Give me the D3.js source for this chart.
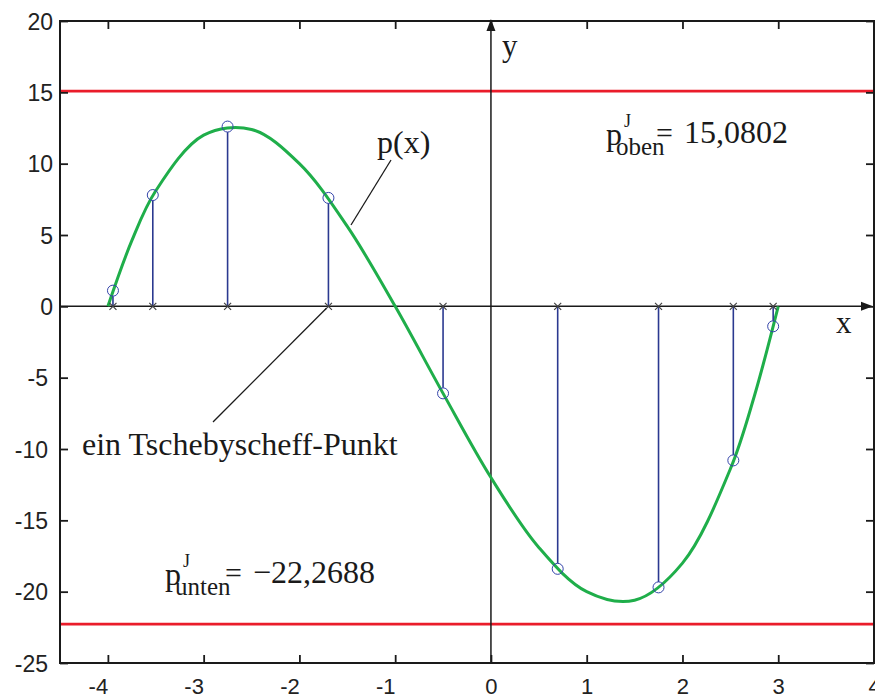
<!DOCTYPE html>
<html>
<head>
<meta charset="utf-8">
<script src="https://cdn.jsdelivr.net/npm/d3@7"></script>
<style>
  body { margin: 0; background: #fff; }
  svg { display: block; }
</style>
</head>
<body>
<div id="root"></div>
<script>
// chebyshev nodes on [-4, 3] and the values p(x) at them
const nodeX = [-3.947, -3.531, -2.750, -1.697, -0.500, 0.697, 1.750, 2.531, 2.947];
const nodeY = [1.1, 7.8, 12.6, 7.6, -6.1, -18.4, -19.7, -10.8, -1.4];

const curveX = [-4, -3.75, -3.5, -3, -2.5, -2, -1.5, -1, -0.5, 0, 0.5, 1, 1.5, 2, 2.5, 2.75, 3];
const curveY = [0, 4.6, 8.1, 12, 12.4, 10, 5.6, 0, -6.1, -12, -16.9, -20, -20.6, -18, -11.4, -6.3, 0];

// upper / lower bounds
const boundValues = [15.0802, -22.2688];

const xTicks = [-4, -3, -2, -1, 0, 1, 2, 3, 4];
const yTicks = [-25, -20, -15, -10, -5, 0, 5, 10, 15, 20];

const width = 875,
  height = 696,
  margin = { left: 60, top: 21, right: 1, bottom: 33 };

const serif = "'Liberation Serif', 'Times New Roman', serif";
const sans = "'Liberation Sans', Arial, sans-serif";

const svg = d3.select("#root")
  .append("svg")
  .attr("width", width)
  .attr("height", height)
  .attr("viewBox", [0, 0, width, height]);

const x = d3.scaleLinear()
  .domain([-4.5, 4])
  .range([margin.left, width - margin.right]);

const y = d3.scaleLinear()
  .domain([-25, 20])
  .range([height - margin.bottom, margin.top]);

const x0 = x.range()[0], x1 = x.range()[1];
const y0 = y.range()[0], y1 = y.range()[1];

// red bound lines
svg.append("g")
  .selectAll("line")
  .data(boundValues)
  .join("line")
  .attr("x1", x0)
  .attr("x2", x1)
  .attr("y1", (d) => y(d))
  .attr("y2", (d) => y(d))
  .attr("stroke", "#ea1c2a")
  .attr("stroke-width", 2.7);

// coordinate axes through the origin, with arrow heads
const axes = svg.append("g").attr("stroke", "#1a1a1a").attr("fill", "#1a1a1a");
axes.append("line")
  .attr("x1", x0).attr("x2", x1 - 6)
  .attr("y1", y(0)).attr("y2", y(0))
  .attr("stroke-width", 1.5);
axes.append("path")
  .attr("stroke", "none")
  .attr("d", `M${x1 - 1},${y(0)} L${x1 - 13},${y(0) - 4.5} L${x1 - 13},${y(0) + 4.5} Z`);
axes.append("line")
  .attr("x1", x(0)).attr("x2", x(0))
  .attr("y1", y0).attr("y2", y1 + 8)
  .attr("stroke-width", 1.5);
axes.append("path")
  .attr("stroke", "none")
  .attr("d", `M${x(0)},${y1 - 2} L${x(0) - 4.5},${y1 + 10} L${x(0) + 4.5},${y1 + 10} Z`);

// green polynomial
const line = d3.line()
  .x((d, i) => x(curveX[i]))
  .y((d) => y(d))
  .curve(d3.curveCatmullRom.alpha(0.5));

svg.append("path")
  .datum(curveY)
  .attr("fill", "none")
  .attr("stroke", "#1fae4a")
  .attr("stroke-width", 3)
  .attr("d", line);

// stems from the nodes to p(x)
const nodes = nodeX.map((d, i) => ({ x: d, y: nodeY[i] }));

svg.append("g")
  .selectAll("line")
  .data(nodes)
  .join("line")
  .attr("x1", (d) => x(d.x))
  .attr("x2", (d) => x(d.x))
  .attr("y1", y(0))
  .attr("y2", (d) => y(d.y) + (d.y > 0 ? 5.5 : -5.5))
  .attr("stroke", "#2b3990")
  .attr("stroke-width", 1.6);

svg.append("g")
  .selectAll("circle")
  .data(nodes)
  .join("circle")
  .attr("cx", (d) => x(d.x))
  .attr("cy", (d) => y(d.y))
  .attr("r", 5.5)
  .attr("fill", "none")
  .attr("stroke", "#3444aa")
  .attr("stroke-width", 1);

// crosses on the x axis
svg.append("g")
  .selectAll("path")
  .data(nodes)
  .join("path")
  .attr("transform", (d) => `translate(${x(d.x)},${y(0)})`)
  .attr("d", "M-3.5,-3.5L3.5,3.5M-3.5,3.5L3.5,-3.5")
  .attr("stroke", "#444")
  .attr("stroke-width", 1.2);

// frame with inward ticks on all sides
const styleAxis = (g) => {
  g.select(".domain").remove();
  g.selectAll(".tick line").attr("stroke", "#1a1a1a").attr("stroke-width", 1.8);
  g.selectAll("text").attr("font-family", sans).attr("font-size", 23).attr("fill", "#222");
};

// plain hyphen for negatives, like the original
const plain = (d) => String(d);

svg.append("g")
  .attr("transform", `translate(0,${y0})`)
  .call(d3.axisBottom(x).tickValues(xTicks).tickSize(-8).tickPadding(0).tickFormat(plain))
  .call(styleAxis)
  .call((g) => g.selectAll("text")
    .attr("font-size", 22)
    .attr("y", 31)
    .attr("dy", 0)
    .attr("dx", (d) => (d < 0 ? -10 : 0)));

svg.append("g")
  .attr("transform", `translate(0,${y1})`)
  .call(d3.axisTop(x).tickValues(xTicks).tickSize(-8).tickFormat(""))
  .call(styleAxis);

svg.append("g")
  .attr("transform", `translate(${x0},0)`)
  .call(d3.axisLeft(y).tickValues(yTicks).tickSize(-8).tickFormat(plain))
  .call(styleAxis)
  .call((g) => g.selectAll("text")
    .attr("x", (d) => (d < 0 ? -12 : -7))
    .attr("dy", "0.36em"));

svg.append("g")
  .attr("transform", `translate(${x1},0)`)
  .call(d3.axisRight(y).tickValues(yTicks).tickSize(-8).tickFormat(""))
  .call(styleAxis);

svg.append("rect")
  .attr("x", x0)
  .attr("y", y1)
  .attr("width", x1 - x0)
  .attr("height", y0 - y1)
  .attr("fill", "none")
  .attr("stroke", "#1a1a1a")
  .attr("stroke-width", 2);

// annotations
const notes = svg.append("g")
  .attr("font-family", serif)
  .attr("fill", "#1a1a1a");

notes.append("text").attr("x", 502).attr("y", 56).attr("font-size", 31).text("y");
notes.append("text").attr("x", 836).attr("y", 333).attr("font-size", 31).text("x");

// p(x) label and leader
notes.append("text").attr("x", 377).attr("y", 153).attr("font-size", 32).text("p(x)");
notes.append("line")
  .attr("x1", 391).attr("y1", 160)
  .attr("x2", 351).attr("y2", 225)
  .attr("stroke", "#1a1a1a").attr("stroke-width", 1.3);

// chebyshev point label and leader
notes.append("text").attr("x", 82).attr("y", 455).attr("font-size", 32).text("ein Tschebyscheff-Punkt");
notes.append("line")
  .attr("x1", x(nodeX[3]) - 2).attr("y1", y(0) + 2)
  .attr("x2", 213).attr("y2", 422)
  .attr("stroke", "#1a1a1a").attr("stroke-width", 1.3);

// p^J_oben = 15,0802 / p^J_unten = -22,2688
function boundLabel(px, base, sub, value) {
  const g = notes.append("g");
  g.append("text").attr("x", px).attr("y", base + 2).attr("font-size", 32).text("p");
  g.append("text").attr("x", px + 18).attr("y", base - 16).attr("font-size", 18).text("J");
  g.append("text").attr("x", px + 10).attr("y", base + 12).attr("font-size", 25).text(sub);
  g.append("text").attr("x", px + sub.length * 10 + 10).attr("y", base).attr("font-size", 30).text("=");
  g.append("text").attr("x", px + sub.length * 10 + 38).attr("y", base).attr("font-size", 32).text(value);
}

boundLabel(606, 143, "oben", "15,0802");
boundLabel(165, 583, "unten", "\u221222,2688");
</script>
</body>
</html>
